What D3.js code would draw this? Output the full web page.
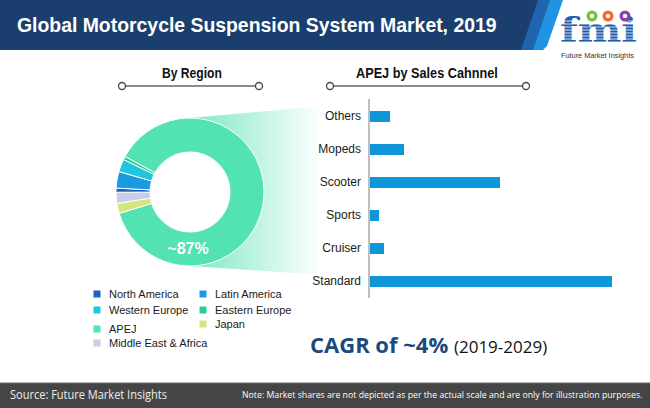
<!DOCTYPE html>
<html>
<head>
<meta charset="utf-8">
<script src="https://cdn.jsdelivr.net/npm/d3@7"></script>
<style>
  html, body { margin: 0; padding: 0; background: #fff; }
  svg { display: block; }
</style>
</head>
<body>
<svg id="chart" width="650" height="408"></svg>
<script>
// ---------- DATA ----------
const title = "Global Motorcycle Suspension System Market, 2019";
const regions = ["APEJ", "Japan", "Middle East & Africa", "North America", "Latin America", "Western Europe", "Eastern Europe"];
const regionShares = [87.4, 2.2, 2.4, 0.9, 3.6, 2.8, 0.7];
const legendOrder = ["North America", "Latin America", "Western Europe", "Eastern Europe", "APEJ", "Japan", "Middle East & Africa"];
const apejLabel = "~87%";
const channels = ["Others", "Mopeds", "Scooter", "Sports", "Cruiser", "Standard"];
const channelValues = [4.0, 6.8, 26.0, 1.8, 2.8, 48.4];
const cagrText = "CAGR of ~4%";
const cagrPeriod = "(2019-2029)";
const sourceText = "Source: Future Market Insights";
const noteText = "Note: Market shares are not depicted as per the actual scale and are only for illustration purposes.";

// ---------- STYLE ----------
const regionColor = d3.scaleOrdinal()
  .domain(["North America", "Latin America", "Western Europe", "Eastern Europe", "APEJ", "Japan", "Middle East & Africa"])
  .range(["#1763be", "#1a9ae0", "#1ec6df", "#27cf94", "#52e2b4", "#d3e67a", "#c8cde8"]);
const barColor = "#0d97d8";
const font = "'Liberation Sans', Arial, sans-serif";

const svg = d3.select("#chart");
const defs = svg.append("defs");

// fit a text horizontally to a given width by scaling
function fitText(sel, x, y, width) {
  const len = sel.node().getComputedTextLength();
  sel.attr("x", 0).attr("y", 0)
    .attr("transform", `translate(${x},${y}) scale(${width / len},1)`);
}

// ---------- HEADER ----------
svg.append("polygon").attr("points", "0,0 548,0 530,50 0,50").attr("fill", "#1a3f6e");
svg.append("polygon").attr("points", "538,0 552,0 535,50 521,50").attr("fill", "#1f64ae");
svg.append("polygon").attr("points", "550,0 563,0 547,46 543,50 533,50").attr("fill", "#2293e2");
const tt = svg.append("text")
  .attr("font-family", font).attr("font-weight", "bold").attr("font-size", 20)
  .attr("fill", "#fff").text(title);
fitText(tt, 17, 32, 480);

// logo
const logo = svg.append("g");
const fmi = logo.append("text")
  .attr("font-family", "'DejaVu Serif', serif").attr("font-weight", "bold").attr("font-size", 33)
  .attr("fill", "#1f5eaf").text("fmi");
fitText(fmi, 560, 42, 77);
for (let yy = 21; yy < 43; yy += 3) {
  logo.append("line").attr("x1", 558).attr("x2", 640).attr("y1", yy).attr("y2", yy)
    .attr("stroke", "#fff").attr("stroke-width", 0.8);
}
[[592, "#7cc242"], [608, "#f2692b"], [625, "#8e3fa8"]].forEach(([cx, c]) => {
  logo.append("circle").attr("cx", cx).attr("cy", 16).attr("r", 5.5).attr("fill", c);
  logo.append("circle").attr("cx", cx).attr("cy", 16).attr("r", 2.2).attr("fill", "#fff");
});
const fmiSub = logo.append("text").attr("font-family", font).attr("font-size", 7)
  .attr("fill", "#333").text("Future Market Insights");
fitText(fmiSub, 561, 58, 73);

// ---------- SECTION HEADERS ----------
function sectionHeader(cx, x1, x2, label, w) {
  const t = svg.append("text").attr("text-anchor", "start")
    .attr("font-family", font).attr("font-weight", "bold").attr("font-size", 14)
    .attr("fill", "#111").text(label);
  fitText(t, cx - w / 2, 78, w);
  svg.append("line").attr("x1", x1).attr("x2", x2).attr("y1", 86).attr("y2", 86)
    .attr("stroke", "#666").attr("stroke-width", 1.5);
  [x1, x2].forEach(x => svg.append("circle").attr("cx", x).attr("cy", 86).attr("r", 3.5)
    .attr("fill", "#fff").attr("stroke", "#444").attr("stroke-width", 1.3));
}
sectionHeader(192, 122, 259, "By Region", 60);
sectionHeader(427, 330, 526, "APEJ by Sales Cahnnel", 142);

// ---------- DONUT ----------
const cx = 190, cy = 192, rIn = 40, rOut = 74;
const grad = defs.append("linearGradient").attr("id", "fade").attr("x1", "0%").attr("x2", "100%");
grad.append("stop").attr("offset", "0%").attr("stop-color", "#7de8c4");
grad.append("stop").attr("offset", "100%").attr("stop-color", "#ffffff");
svg.append("polygon").attr("points", "190,118 322,106 322,275 190,266").attr("fill", "url(#fade)");
svg.append("circle").attr("cx", cx).attr("cy", cy).attr("r", rIn + 1).attr("fill", "#fff");

const regionData = regions.map((r, i) => ({ region: r, value: regionShares[i] }));
const start = 298.6 * Math.PI / 180;
const pie = d3.pie().value(d => d.value).sort(null).startAngle(start).endAngle(start + 2 * Math.PI);
const arc = d3.arc().innerRadius(rIn).outerRadius(rOut);
const dg = svg.append("g").attr("transform", `translate(${cx},${cy})`);
dg.selectAll("path").data(pie(regionData)).join("path")
  .attr("d", arc).attr("fill", d => regionColor(d.data.region))
  .attr("stroke", "#fff").attr("stroke-width", 1);
dg.append("text").attr("x", -2).attr("y", 62).attr("text-anchor", "middle")
  .attr("font-family", font).attr("font-weight", "bold").attr("font-size", 16)
  .attr("fill", "#fff").text(apejLabel);

// ---------- LEGEND ----------
const legendPos = [[97, 294], [203, 294], [97, 310], [203, 310], [97, 329], [203, 324], [97, 343]];
legendOrder.forEach((r, i) => {
  const [lx, ly] = legendPos[i];
  svg.append("rect").attr("x", lx - 3.5).attr("y", ly - 3.5).attr("width", 7).attr("height", 7)
    .attr("fill", regionColor(r));
  svg.append("text").attr("x", lx + 12).attr("y", ly + 4)
    .attr("font-family", font).attr("font-size", 11).attr("fill", "#1a1a1a").text(r);
});

// ---------- BAR CHART ----------
const x = d3.scaleLinear().domain([0, 50]).range([370, 620]);
const y = d3.scaleBand().domain(channels).range([100, 298]).paddingInner(0.667).paddingOuter(0.333);
svg.append("line").attr("x1", 369).attr("x2", 369).attr("y1", 99).attr("y2", 298)
  .attr("stroke", "#aaa").attr("stroke-width", 1.5);
svg.selectAll("rect.bar").data(channels).join("rect").attr("class", "bar")
  .attr("x", x(0)).attr("y", d => y(d))
  .attr("width", (d, i) => x(channelValues[i]) - x(0)).attr("height", y.bandwidth())
  .attr("fill", barColor);
const yAxis = d3.axisLeft(y).tickSize(0).tickPadding(8);
const ya = svg.append("g").attr("transform", "translate(369,0)").call(yAxis);
ya.select(".domain").remove();
ya.selectAll("text").attr("font-family", font).attr("font-size", 12).attr("fill", "#1a1a1a");

// ---------- CAGR ----------
const cg = svg.append("text").attr("x", 310).attr("y", 353).attr("font-family", "'Open Sans', 'Liberation Sans', sans-serif");
cg.append("tspan").attr("font-weight", "bold").attr("font-size", 22).attr("fill", "#1c4a7e").text(cagrText + " ");
cg.append("tspan").attr("font-size", 17).attr("fill", "#111").text(cagrPeriod);

// ---------- FOOTER ----------
svg.append("rect").attr("x", 0).attr("y", 383).attr("width", 650).attr("height", 25).attr("fill", "#454545");
svg.append("line").attr("x1", 0).attr("x2", 650).attr("y1", 383).attr("y2", 383).attr("stroke", "#6a6a6a");
const src = svg.append("text").attr("font-family", "'Open Sans', sans-serif")
  .attr("font-size", 12).attr("fill", "#eee").text(sourceText);
fitText(src, 10, 399, 157);
const note = svg.append("text").attr("font-family", "'Open Sans', sans-serif")
  .attr("font-size", 9.5).attr("fill", "#fff").text(noteText);
fitText(note, 242, 398, 401);
</script>
</body>
</html>
